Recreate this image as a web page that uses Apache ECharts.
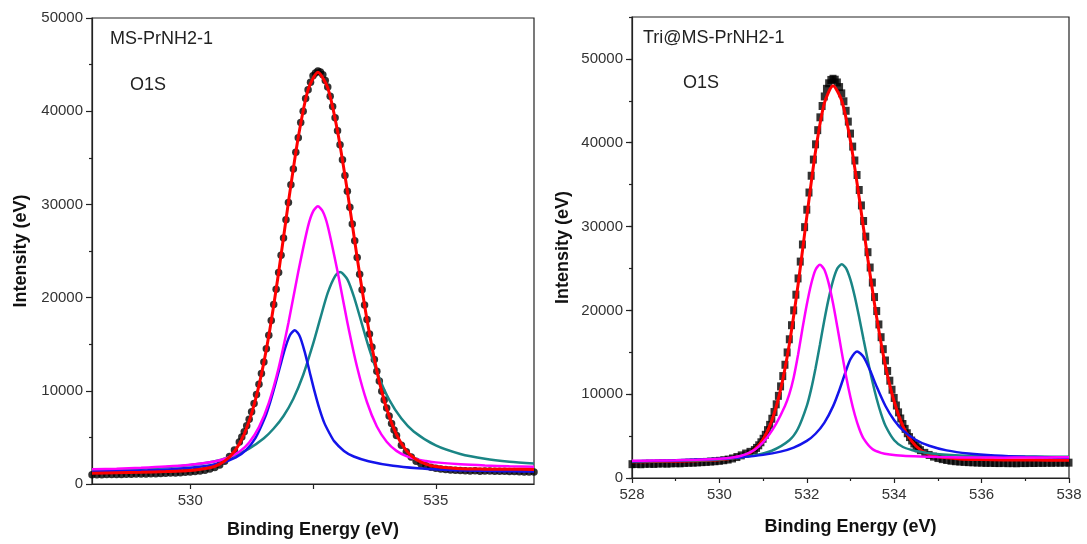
<!DOCTYPE html>
<html>
<head>
<meta charset="utf-8">
<script src="https://cdn.jsdelivr.net/npm/echarts@6/dist/echarts.min.js"></script>
<style>
  html, body { margin: 0; padding: 0; background: #fff; }
  #main { width: 1087px; height: 544px; }
</style>
</head>
<body>
<div id="main"></div>
<script>
// ---------- text ----------
const leftTitle = 'MS-PrNH2-1';
const rightTitle = 'Tri@MS-PrNH2-1';
const peakLabel = 'O1S';
const xName = 'Binding Energy (eV)';
const yName = 'Intensity (eV)';

// ---------- ticks ----------
const leftXTicks = [530, 532.5, 535];
const leftXLabels = [530, 535];
const rightYMajor = [0, 10000, 20000, 30000, 40000, 50000];

// ---------- Left panel: MS-PrNH2-1, O1S ----------
// measured data points (black dots)
const leftData = [
  [528.0,990],[528.1,1000],[528.2,980],[528.3,1010],[528.4,1020],[528.5,1030],[528.6,1010],[528.7,1040],[528.8,1050],[528.9,1060],
  [529.0,1080],[529.1,1070],[529.2,1100],[529.3,1110],[529.4,1130],[529.5,1150],[529.6,1170],[529.7,1190],[529.8,1220],[529.9,1250],
  [530.0,1290],[530.1,1340],[530.2,1400],[530.3,1480],[530.4,1600],[530.5,1780],[530.6,2050],[530.7,2450],[530.8,2950],[530.9,3650],
  [531.00,4500],[531.05,5050],[531.10,5600],[531.15,6250],[531.20,6950],[531.25,7750],[531.30,8650],[531.35,9600],[531.40,10700],[531.45,11850],
  [531.50,13100],[531.55,14500],[531.60,15950],[531.65,17550],[531.70,19250],[531.75,20900],[531.80,22700],[531.85,24550],[531.90,26400],[531.95,28350],
  [532.00,30200],[532.05,32100],[532.10,33800],[532.15,35600],[532.20,37150],[532.25,38800],[532.30,40000],[532.35,41350],[532.40,42300],[532.45,43100],
  [532.50,43800],[532.55,44100],[532.60,44300],[532.65,44200],[532.70,43900],[532.75,43300],[532.80,42600],[532.85,41600],[532.90,40500],[532.95,39300],
  [533.00,37900],[533.05,36400],[533.10,34800],[533.15,33100],[533.20,31400],[533.25,29700],[533.30,27900],[533.35,26100],[533.40,24300],[533.45,22500],
  [533.50,20850],[533.55,19200],[533.60,17650],[533.65,16100],[533.70,14700],[533.75,13350],[533.80,12100],[533.85,11050],[533.90,9950],[533.95,9000],
  [534.00,8150],[534.05,7300],[534.10,6500],[534.15,5800],[534.20,5200],
  [534.3,4150],[534.4,3450],[534.5,2900],[534.6,2450],[534.7,2150],[534.8,1950],[534.9,1800],[535.0,1700],[535.1,1600],[535.2,1550],
  [535.3,1500],[535.4,1480],[535.5,1450],[535.6,1430],[535.7,1400],[535.8,1420],[535.9,1380],[536.0,1400],[536.1,1390],[536.2,1370],
  [536.3,1380],[536.4,1360],[536.5,1350],[536.6,1340],[536.7,1320],[536.8,1300],[536.9,1290],[537.0,1280]
];
// fitted envelope (red)
const leftFit = [
  [528,1166],[528.5,1213],[529,1264],[529.5,1332],[530,1451],[530.4,1747],[530.6,2133],[530.8,2897],[531.0,4295],[531.2,6748],
  [531.4,10575],[531.6,15903],[531.8,22690],[532.0,30248],[532.2,37206],[532.4,42320],[532.6,44173],[532.8,42512],[533.0,37840],[533.2,31414],
  [533.4,24257],[533.6,17615],[533.8,12134],[534.0,8067],[534.2,5287],[534.4,3580],[534.6,2618],[534.8,2138],[535.0,1867],[535.5,1635],
  [536.0,1592],[536.5,1574],[537.0,1565]
];
// component peaks
const leftMagenta = [
  [528,1572],[528.5,1641],[529,1735],[529.5,1866],[530,2065],[530.4,2338],[530.6,2542],[530.8,2887],[531.0,3459],[531.2,4456],
  [531.4,6103],[531.6,8713],[531.8,12454],[532.0,17300],[532.2,22768],[532.4,27670],[532.5,29229],[532.6,29798],[532.7,29235],[532.8,27682],
  [533.0,22792],[533.2,17336],[533.4,12502],[533.6,8773],[533.8,6175],[534.0,4540],[534.2,3555],[534.4,2995],[534.6,2662],[534.8,2470],
  [535.0,2320],[535.5,2109],[536.0,1985],[536.5,1909],[537.0,1861]
];
const leftTeal = [
  [528,1420],[528.5,1520],[529,1640],[529.5,1800],[530,2030],[530.5,2440],[530.9,3050],[531.2,3800],[531.5,4900],[531.7,5950],
  [531.9,7300],[532.1,9150],[532.3,11700],[532.5,15000],[532.65,17800],[532.8,20500],[532.95,22300],[533.05,22750],[533.2,21953],[533.35,19821],
  [533.5,17097],[533.65,14416],[533.85,11372],[534.05,9059],[534.3,7021],[534.55,5641],[535.0,4135],[535.5,3226],[536.0,2710],[536.5,2397],
  [537.0,2198]
];
const leftBlue = [
  [528,1325],[528.63,1388],[529.13,1466],[529.63,1594],[530.13,1814],[530.63,2266],[530.93,2857],[531.13,3607],[531.33,4956],[531.53,7237],
  [531.63,8813],[531.73,10650],[531.83,12624],[531.93,14522],[532.03,15962],[532.13,16497],[532.23,15855],[532.33,14203],[532.43,12077],[532.53,9967],
  [532.63,8085],[532.73,6556],[532.83,5500],[532.93,4600],[533.13,3550],[533.33,2950],[533.63,2450],[534.13,1950],[534.63,1680],[535.13,1530],
  [535.63,1440],[536.13,1390],[536.6,1360],[537.0,1330]
];

// ---------- Right panel: Tri@MS-PrNH2-1, O1S ----------
const rightData = [
  [528.0,1650],[528.1,1670],[528.2,1640],[528.3,1690],[528.4,1700],[528.5,1680],[528.6,1720],[528.7,1740],[528.8,1710],[528.9,1750],
  [529.0,1770],[529.1,1750],[529.2,1800],[529.3,1820],[529.4,1830],[529.5,1860],[529.6,1890],[529.7,1920],[529.8,1960],[529.9,2000],
  [530.0,2050],[530.1,2120],[530.2,2200],[530.3,2330],[530.4,2500],[530.5,2700],[530.6,2920],[530.7,3120],
  [530.80,3330],[530.85,3590],[530.90,3900],[530.95,4260],[531.00,4680],[531.05,5150],[531.10,5710],[531.15,6340],[531.20,7070],[531.25,7870],
  [531.30,8790],[531.35,9800],[531.40,10930],[531.45,12160],[531.50,13510],[531.55,14980],[531.60,16550],[531.65,18230],[531.70,20000],[531.75,21870],
  [531.80,23810],[531.85,25820],[531.90,27860],[531.95,29930],[532.00,32010],[532.05,34060],[532.10,36060],[532.15,37990],[532.20,39810],[532.25,41500],
  [532.30,43030],[532.35,44380],[532.40,45520],[532.45,46430],[532.50,47090],[532.55,47490],[532.60,47630],[532.65,47520],[532.70,47190],[532.75,46640],
  [532.80,45890],[532.85,44940],[532.90,43810],[532.95,42520],[533.00,41090],[533.05,39540],[533.10,37880],[533.15,36150],[533.20,34360],[533.25,32520],
  [533.30,30660],[533.35,28800],[533.40,26940],[533.45,25110],[533.50,23320],[533.55,21590],[533.60,19920],[533.65,18320],[533.70,16800],[533.75,15370],
  [533.80,14020],[533.85,12770],[533.90,11610],[533.95,10530],[534.00,9550],[534.05,8650],[534.10,7830],[534.15,7100],[534.20,6440],[534.25,5860],
  [534.30,5340],[534.35,4880],[534.40,4470],[534.45,4120],[534.50,3810],[534.55,3540],[534.60,3320],
  [534.7,3000],[534.8,2750],[534.9,2550],[535.0,2380],[535.1,2250],[535.2,2150],[535.3,2060],[535.4,2000],[535.5,1960],[535.6,1920],
  [535.7,1890],[535.8,1870],[535.9,1840],[536.0,1830],[536.1,1800],[536.2,1810],[536.3,1790],[536.4,1780],[536.5,1800],[536.6,1770],
  [536.7,1780],[536.8,1760],[536.9,1790],[537.0,1780],[537.1,1800],[537.2,1790],[537.3,1810],[537.4,1800],[537.5,1820],[537.6,1810],
  [537.7,1830],[537.8,1820],[537.9,1840],[538.0,1830]
];
const rightFit = [
  [528.0,1930],[528.5,1960],[529.0,2010],[529.5,2070],[530.0,2170],[530.4,2430],[530.6,2740],[530.8,3380],[531.0,4620],[531.2,6850],
  [531.4,10540],[531.6,15970],[531.8,23060],[532.0,31180],[532.2,38990],[532.4,44690],[532.6,46800],[532.8,45010],[533.0,40170],[533.2,33400],
  [533.4,26010],[533.6,19110],[533.8,13370],[534.0,9120],[534.2,6200],[534.4,4400],[534.6,3360],[534.8,2810],[535.0,2520],[535.5,2280],
  [536.0,2200],[536.5,2160],[537.0,2140],[537.5,2130],[538.0,2120]
];
const rightMagenta = [
  [528.0,2050],[528.5,2080],[529.0,2120],[529.5,2180],[530.0,2300],[530.3,2450],[530.5,2650],[530.7,3050],[530.9,3750],[531.1,4900],
  [531.3,6500],[531.5,8600],[531.6,10000],[531.7,12000],[531.8,14700],[531.9,17800],[532.0,20700],[532.1,23150],[532.2,24850],[532.3,25450],
  [532.4,24870],[532.5,23250],[532.6,20840],[532.7,17980],[532.8,14990],[532.9,12120],[533.0,9610],[533.1,7520],[533.2,5880],[533.3,4700],
  [533.5,3450],[533.7,3000],[533.9,2800],[534.2,2650],[534.6,2560],[535.0,2500],[535.5,2460],[536.0,2440],[536.5,2430],[537.0,2440],
  [537.5,2460],[538.0,2470]
];
const rightTeal = [
  [528.0,1960],[528.8,2030],[529.3,2080],[529.8,2150],[530.3,2350],[530.8,2700],[531.2,3250],[531.6,4500],[531.8,5900],[532.0,8600],
  [532.1,10600],[532.2,13100],[532.3,15900],[532.4,18800],[532.5,21400],[532.6,23550],[532.7,25000],[532.8,25500],[532.9,25020],[533.0,23640],
  [533.1,21600],[533.2,19130],[533.3,16500],[533.4,13940],[533.5,11540],[533.6,9420],[533.7,7650],[533.8,6230],[534.0,4500],[534.2,3700],
  [534.4,3350],[534.6,3120],[534.8,2950],[535.3,2750],[535.8,2650],[536.3,2600],[536.8,2570],[537.6,2550],[538.0,2550]
];
const rightBlue = [
  [528.0,1997],[529.0,2111],[530.0,2307],[530.5,2478],[531.0,2758],[531.4,3144],[531.7,3624],[532.0,4423],[532.2,5279],[532.4,6574],
  [532.6,8546],[532.75,10564],[532.9,12854],[533.0,14190],[533.15,15100],[533.3,14445],[533.45,12816],[533.6,10882],[533.8,8588],[534.0,6883],
  [534.2,5687],[534.5,4538],[534.8,3843],[535.2,3295],[535.7,2917],[536.3,2674],[537.0,2527],[538.0,2430]
];

// ---------- styling ----------
const FONT = '"Liberation Sans", Arial, sans-serif';
const AX = '#222';
const C_RED = '#ff0000', C_MAG = '#ff00ff', C_TEAL = '#1a8585', C_BLUE = '#1414ea';

function lineSeries(data, color, xi, width) {
  return {
    type: 'line', data: data, xAxisIndex: xi, yAxisIndex: xi === 0 ? 0 : 1,
    showSymbol: false, smooth: 0.25,
    lineStyle: { color: color, width: width || 2.5 }, itemStyle: { color: color },
    silent: true, z: 3
  };
}
const plain = function (v) { return String(v); };
const axisLineStyle = { show: true, lineStyle: { color: AX, width: 1.2 } };
const labelStyle = { fontSize: 15, color: '#333', fontFamily: FONT, margin: 9, formatter: plain };
const nameStyle = { fontSize: 18, fontWeight: 'bold', color: '#111', fontFamily: FONT };

const option = {
  animation: false,
  backgroundColor: '#fff',
  textStyle: { fontFamily: FONT },
  grid: [
    { left: 92, top: 18, width: 442, height: 466, show: true, borderColor: AX, borderWidth: 1.2,
      containLabel: false, outerBoundsMode: 'none' },
    { left: 632, top: 17, width: 437, height: 461, show: true, borderColor: AX, borderWidth: 1.2,
      containLabel: false, outerBoundsMode: 'none' }
  ],
  xAxis: [
    { gridIndex: 0, type: 'value', min: 528, max: 537,
      axisLine: axisLineStyle,
      axisTick: { show: true, customValues: leftXTicks, length: 5, lineStyle: { color: AX, width: 1.2 } },
      axisLabel: Object.assign({ customValues: leftXLabels }, labelStyle),
      splitLine: { show: false },
      name: xName, nameLocation: 'middle', nameGap: 37, nameTextStyle: nameStyle },
    { gridIndex: 1, type: 'value', min: 528, max: 538, interval: 2,
      axisLine: axisLineStyle,
      axisTick: { show: true, length: 5, lineStyle: { color: AX, width: 1.2 } },
      minorTick: { show: true, splitNumber: 2, length: 3, lineStyle: { color: AX, width: 1.2 } },
      axisLabel: labelStyle,
      splitLine: { show: false },
      name: xName, nameLocation: 'middle', nameGap: 40, nameTextStyle: nameStyle }
  ],
  yAxis: [
    { gridIndex: 0, type: 'value', min: 0, max: 50000, interval: 10000, position: 'left',
      axisLine: axisLineStyle,
      axisTick: { show: true, length: 6, lineStyle: { color: AX, width: 1.2 } },
      minorTick: { show: true, splitNumber: 2, length: 3, lineStyle: { color: AX, width: 1.2 } },
      axisLabel: labelStyle,
      splitLine: { show: false },
      name: yName, nameLocation: 'middle', nameGap: 62, nameTextStyle: nameStyle },
    { gridIndex: 1, type: 'value', min: 0, max: 55000, interval: 5000, position: 'left',
      axisLine: axisLineStyle,
      axisTick: { show: true, length: 3, lineStyle: { color: AX, width: 1.2 } },
      axisLabel: Object.assign({ customValues: rightYMajor }, labelStyle),
      splitLine: { show: false },
      name: yName, nameLocation: 'middle', nameGap: 60, nameTextStyle: nameStyle },
    { gridIndex: 1, type: 'value', min: 0, max: 55000, position: 'left', offset: 0,
      axisLine: { show: false },
      axisTick: { show: true, customValues: rightYMajor, length: 6, lineStyle: { color: AX, width: 1.2 } },
      axisLabel: { show: false },
      splitLine: { show: false } }
  ],
  graphic: [
    { type: 'text', left: 110, top: 30, style: { text: leftTitle, font: '18px ' + FONT, fill: '#222' } },
    { type: 'text', left: 130, top: 76, style: { text: peakLabel, font: '18px ' + FONT, fill: '#222' } },
    { type: 'text', left: 643, top: 29, style: { text: rightTitle, font: '18px ' + FONT, fill: '#222' } },
    { type: 'text', left: 683, top: 74, style: { text: peakLabel, font: '18px ' + FONT, fill: '#222' } }
  ],
  series: [
    { type: 'scatter', data: leftData, xAxisIndex: 0, yAxisIndex: 0, symbol: 'circle', symbolSize: 7.5,
      itemStyle: { color: '#000' }, silent: true, z: 2 },
    lineSeries(leftTeal, C_TEAL, 0),
    lineSeries(leftBlue, C_BLUE, 0),
    lineSeries(leftMagenta, C_MAG, 0),
    lineSeries(leftFit, C_RED, 0, 3),
    { type: 'scatter', data: rightData, xAxisIndex: 1, yAxisIndex: 1, symbol: 'rect', symbolSize: [7, 8],
      itemStyle: { color: '#000' }, silent: true, z: 2 },
    lineSeries(rightFit, C_RED, 1, 3),
    lineSeries(rightTeal, C_TEAL, 1),
    lineSeries(rightBlue, C_BLUE, 1),
    lineSeries(rightMagenta, C_MAG, 1)
  ]
};

const chart = echarts.init(document.getElementById('main'));
chart.setOption(option);
</script>
</body>
</html>
